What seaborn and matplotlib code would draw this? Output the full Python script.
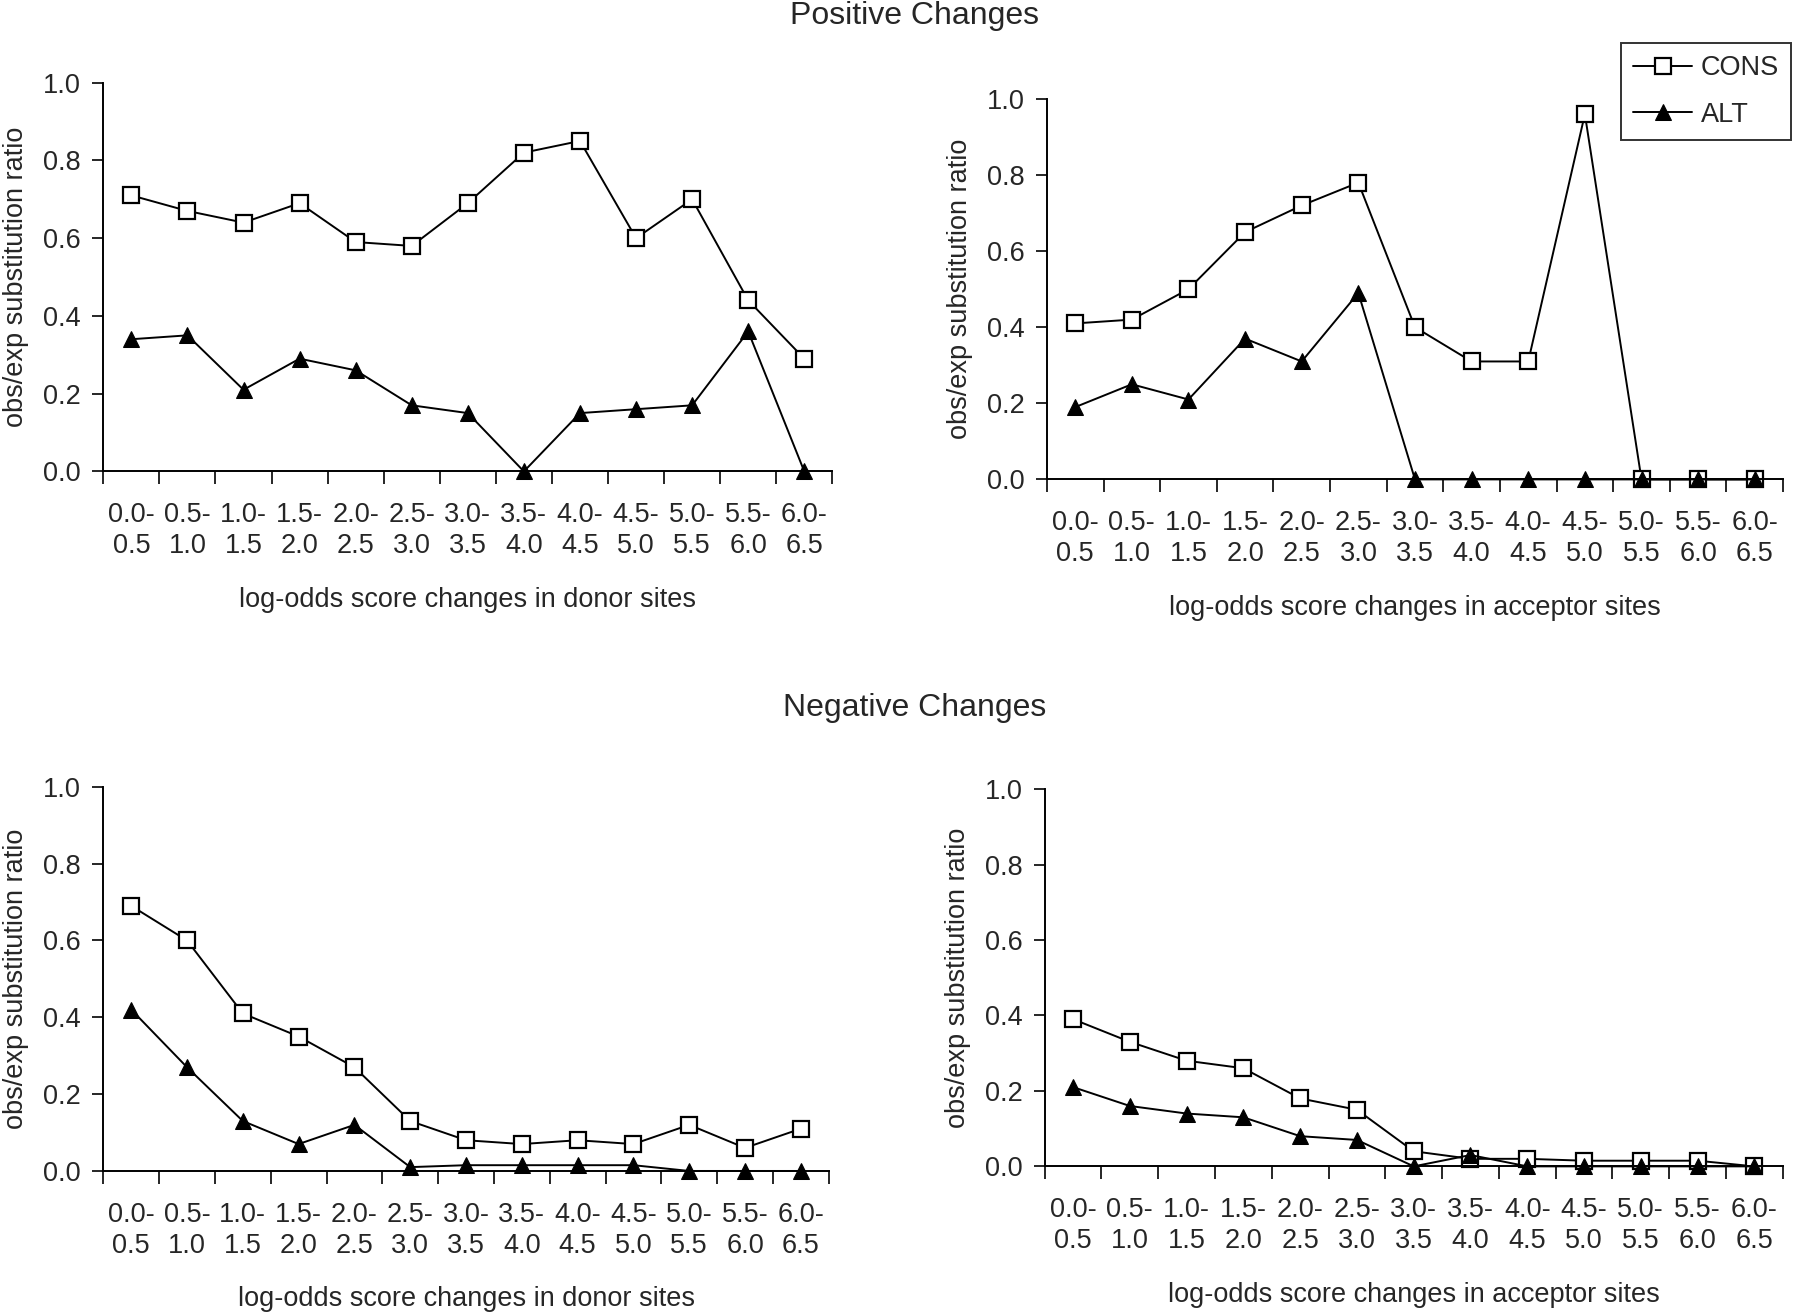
import numpy as np
import pandas as pd
import matplotlib
matplotlib.use("Agg")
import matplotlib.pyplot as plt
import seaborn as sns

# categories (log-odds score change bins)
bins = ["0.0-\n0.5", "0.5-\n1.0", "1.0-\n1.5", "1.5-\n2.0", "2.0-\n2.5", "2.5-\n3.0", "3.0-\n3.5",
        "3.5-\n4.0", "4.0-\n4.5", "4.5-\n5.0", "5.0-\n5.5", "5.5-\n6.0", "6.0-\n6.5"]

# positive changes, donor sites
pos_donor_cons = [0.71, 0.67, 0.64, 0.69, 0.59, 0.58, 0.69, 0.82, 0.85, 0.60, 0.70, 0.44, 0.29]
pos_donor_alt = [0.34, 0.35, 0.21, 0.29, 0.26, 0.17, 0.15, 0.00, 0.15, 0.16, 0.17, 0.36, 0.00]

# positive changes, acceptor sites
pos_acc_cons = [0.41, 0.42, 0.50, 0.65, 0.72, 0.78, 0.40, 0.31, 0.31, 0.96, 0.00, 0.00, 0.00]
pos_acc_alt = [0.19, 0.25, 0.21, 0.37, 0.31, 0.49, 0.00, 0.00, 0.00, 0.00, 0.00, 0.00, 0.00]

# negative changes, donor sites
neg_donor_cons = [0.69, 0.60, 0.41, 0.35, 0.27, 0.13, 0.08, 0.07, 0.08, 0.07, 0.12, 0.06, 0.11]
neg_donor_alt = [0.42, 0.27, 0.13, 0.07, 0.12, 0.01, 0.015, 0.015, 0.015, 0.015, 0.00, 0.00, 0.00]

# negative changes, acceptor sites
neg_acc_cons = [0.39, 0.33, 0.28, 0.26, 0.18, 0.15, 0.04, 0.02, 0.02, 0.015, 0.015, 0.015, 0.00]
neg_acc_alt = [0.21, 0.16, 0.14, 0.13, 0.08, 0.07, 0.00, 0.03, 0.00, 0.00, 0.00, 0.00, 0.00]

sns.set_style("ticks")
plt.rcParams['font.family'] = ['Liberation Sans', 'DejaVu Sans']

fig = plt.figure(figsize=(18, 13.12), dpi=100)

panels = [
    ([0.0574, 0.6407, 0.405, 0.2963], pos_donor_cons, pos_donor_alt, "log-odds score changes in donor sites"),
    ([0.5816, 0.6346, 0.409, 0.2900], pos_acc_cons, pos_acc_alt, "log-odds score changes in acceptor sites"),
    ([0.0574, 0.1075, 0.403, 0.2928], neg_donor_cons, neg_donor_alt, "log-odds score changes in donor sites"),
    ([0.5804, 0.1110, 0.410, 0.2876], neg_acc_cons, neg_acc_alt, "log-odds score changes in acceptor sites"),
]

fs = 19.5
x = np.arange(len(bins))
axes = []
for rect, cons, alt, xlabel in panels:
    ax = fig.add_axes(rect)
    df = pd.DataFrame({"bin": x, "CONS": cons, "ALT": alt})
    sns.lineplot(data=df, x="bin", y="CONS", ax=ax, color="black", lw=1.4,
                 marker="s", markersize=12, markerfacecolor="white",
                 markeredgecolor="black", markeredgewidth=1.6, label="CONS", clip_on=False)
    sns.lineplot(data=df, x="bin", y="ALT", ax=ax, color="black", lw=1.4,
                 marker="^", markersize=12, markerfacecolor="black",
                 markeredgecolor="black", label="ALT", clip_on=False)
    ax.set_xlim(-0.5, len(bins) - 0.5)
    ax.set_ylim(0, 1.0)
    ax.set_yticks([0.0, 0.2, 0.4, 0.6, 0.8, 1.0])
    ax.set_yticklabels(["0.0", "0.2", "0.4", "0.6", "0.8", "1.0"])
    # ticks at bin boundaries, labels at bin centres
    ax.set_xticks(np.arange(-0.5, len(bins), 1.0))
    ax.set_xticklabels([])
    ax.set_xticks(x, minor=True)
    ax.set_xticklabels(bins, minor=True, fontsize=fs, linespacing=1.25)
    ax.tick_params(axis="x", which="minor", length=0, pad=22)
    ax.tick_params(axis="x", which="major", length=9, width=1.4, direction="out")
    ax.tick_params(axis="y", length=8, width=1.4, labelsize=fs, pad=8)
    sns.despine(ax=ax)
    for s in ["left", "bottom"]:
        ax.spines[s].set_linewidth(1.4)
        ax.spines[s].set_color("black")
    ax.set_xlabel(xlabel, fontsize=fs, labelpad=20)
    ax.set_ylabel("obs/exp substitution ratio", fontsize=fs, labelpad=10)
    ax.get_legend().remove()
    axes.append(ax)

fig.text(0.508, 0.988, "Positive Changes", ha="center", va="center", fontsize=23)
fig.text(0.508, 0.460, "Negative Changes", ha="center", va="center", fontsize=23)

handles, labels = axes[1].get_legend_handles_labels()
leg = fig.legend(handles, labels, loc="upper right", bbox_to_anchor=(0.995, 0.967),
                 borderaxespad=0, fontsize=fs, frameon=True, fancybox=False, handlelength=2.2,
                 borderpad=0.45, labelspacing=0.75, handletextpad=0.3)
leg.get_frame().set_edgecolor("black")
leg.get_frame().set_linewidth(1.4)

fig.savefig("out.png", dpi=100, facecolor="white")
